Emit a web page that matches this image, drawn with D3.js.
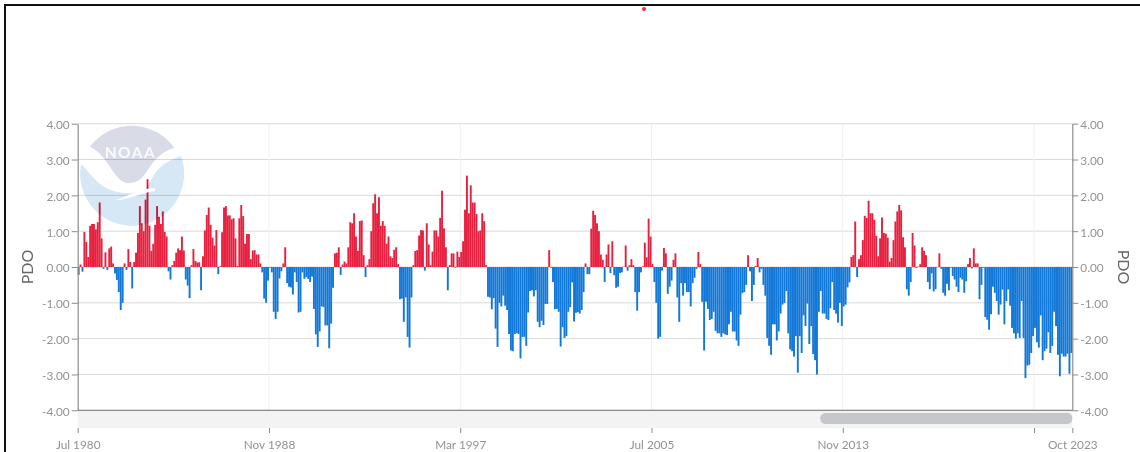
<!DOCTYPE html>
<html>
<head>
<meta charset="utf-8">
<title>PDO</title>
<script src="https://cdn.jsdelivr.net/npm/d3@7"></script>
<style>
  html, body { margin: 0; padding: 0; background: #fff; overflow: hidden; }
  svg { display: block; }
  text { font-family: Lato, "Open Sans", sans-serif; }
</style>
</head>
<body>
<script>
// PDO monthly values, Jul 1980 - Oct 2023
const pdoValues = [
  -0.22,0.07,-0.13,0.98,0.70,0.28,1.15,1.20,1.20,1.05,1.25,1.80,0.80,-0.05,0.41,-0.08,0.52,0.57,0.10,-0.18,
  -0.36,-0.70,-1.20,-1.00,0.10,-0.08,0.50,0.14,-0.60,0.14,0.40,0.95,1.70,1.22,1.00,1.88,2.45,1.15,0.45,0.65,
  1.18,1.70,1.40,1.20,1.55,0.98,0.85,-0.12,-0.35,0.05,0.17,0.40,0.52,0.47,0.85,0.46,-0.35,-0.52,-0.87,0.05,
  0.50,0.17,0.13,0.13,-0.65,0.30,1.02,1.45,1.66,1.18,0.82,0.60,1.03,-0.20,0.02,0.97,1.66,1.70,1.44,1.44,
  1.33,1.36,0.80,0.03,1.36,1.73,1.42,0.65,0.92,0.92,0.22,0.46,0.47,0.35,0.35,0.10,-0.15,-0.88,-1.00,-0.38,
  -0.02,-0.15,-1.25,-1.45,-1.25,-0.32,-0.12,0.10,0.55,-0.45,-0.55,-0.57,-0.77,-0.15,-0.42,-1.27,-1.25,-0.15,-0.33,-0.28,
  -0.33,-0.42,-0.27,-1.17,-1.88,-2.23,-1.80,-1.10,-1.12,-1.63,-1.63,-2.27,-1.58,-0.58,0.38,0.40,0.55,-0.22,0.07,0.15,
  0.10,0.55,1.25,1.22,1.50,0.85,0.45,1.28,1.30,0.33,-0.28,0.05,0.22,1.00,1.78,2.03,1.50,1.95,1.15,1.28,
  1.15,0.65,0.85,0.30,0.25,0.48,0.55,0.08,-0.90,-0.88,-1.53,-0.85,-1.95,-2.25,-0.85,0.05,0.45,0.47,0.88,1.03,
  1.02,-0.10,1.22,0.63,0.05,0.43,1.02,1.02,0.85,1.37,2.13,1.08,0.55,-0.65,0.05,0.38,0.38,-0.02,0.43,0.28,
  0.42,0.72,1.60,2.55,1.50,2.28,1.80,1.80,1.48,1.00,1.02,1.50,1.28,0.05,-0.83,-0.85,-1.18,-0.87,-1.72,-2.23,
  -1.00,-1.10,-0.80,-1.08,-1.20,-1.87,-2.33,-2.35,-1.87,-1.85,-1.87,-2.55,-1.95,-1.95,-2.20,-1.27,-0.67,-0.65,-0.82,-0.65,
  -1.53,-1.68,-1.50,-1.62,-1.03,-1.03,0.47,-0.02,-0.42,-1.18,-1.17,-1.25,-2.22,-1.68,-1.98,-1.93,-1.25,-1.12,-0.43,-1.52,
  -1.28,-1.26,-1.30,-1.20,-0.70,0.10,-0.20,-0.20,1.07,1.57,1.45,1.22,1.00,0.35,0.20,-0.42,0.35,0.63,-0.17,0.72,
  -0.23,-0.58,-0.55,-0.17,-0.15,0.01,0.60,-0.10,0.05,0.22,0.05,-0.70,-1.22,-0.70,-0.15,0.02,0.68,0.27,1.35,0.85,
  0.08,-0.42,-1.00,-2.00,-1.95,-0.10,0.53,0.38,-0.75,-0.55,-0.38,0.20,0.38,-0.85,-1.53,-0.45,-0.80,-0.45,-0.70,-0.70,
  -1.10,-0.45,-0.30,-0.05,0.42,0.08,-0.97,-2.33,-0.97,-1.17,-1.48,-1.45,-1.25,-1.78,-1.85,-1.85,-1.95,-1.85,-1.88,-1.90,
  -1.60,-1.25,-1.80,-1.80,-2.05,-2.20,-1.33,-0.73,-0.70,-0.50,0.33,-0.12,-0.95,-0.50,0.03,0.25,-0.15,-0.05,-0.50,-0.80,
  -1.98,-2.20,-2.45,-1.60,-1.60,-2.05,-1.80,-1.30,-1.05,-1.00,-0.67,-1.85,-2.30,-2.35,-2.50,-1.93,-2.95,-1.93,-2.40,-1.35,
  -1.65,-1.02,-2.15,-1.65,-2.43,-2.60,-3.00,-1.25,-0.67,-1.30,-1.30,-1.45,-1.48,-1.15,-0.42,-1.20,-1.30,-1.55,-1.00,-1.65,
  -1.10,-1.05,-0.57,-0.43,0.28,0.33,1.27,-0.28,0.22,0.33,0.75,1.43,1.37,1.85,1.50,1.50,1.32,0.87,0.30,0.80,
  1.38,0.95,0.93,0.82,0.15,0.25,0.75,1.27,1.55,1.73,1.58,0.83,0.55,-0.62,-0.80,-0.42,0.95,0.60,-0.03,0.01,
  0.08,0.55,0.45,0.33,-0.42,-0.62,-0.18,-0.68,-0.62,-0.01,0.38,-0.05,-0.72,-0.80,-0.47,-0.65,-0.02,-0.25,-0.35,-0.55,
  -0.70,-0.30,-0.35,-0.72,-0.40,0.08,0.25,-0.04,0.52,0.10,0.10,-0.90,-0.50,-0.02,-1.40,-1.47,-1.75,-1.32,-0.55,-0.72,
  -0.95,-1.33,-1.05,-0.63,-1.60,-0.95,-0.63,-1.08,-1.70,-1.85,-2.00,-1.85,-1.98,-0.95,-1.98,-3.10,-2.75,-2.73,-2.40,-1.93,
  -1.70,-2.10,-2.25,-1.35,-2.60,-2.35,-2.28,-1.82,-2.40,-2.20,-1.25,-1.65,-2.45,-3.05,-2.42,-2.50,-2.50,-2.42,-2.98,-2.40
];
const xTickIndex = [0, 100, 200, 300, 400, 500, 520];
const xTickLabels = ['Jul 1980', 'Nov 1988', 'Mar 1997', 'Jul 2005', 'Nov 2013', '', 'Oct 2023'];
const yTicks = [-4, -3, -2, -1, 0, 1, 2, 3, 4];
const scrollWindow = [388, 520];   // part of the range the scrollbar thumb covers

const W = 1140, H = 452;
const plot = {left: 77.7, right: 1072.3, top: 123.7, bottom: 410.3};

const svg = d3.select('body').append('svg')
    .attr('width', W)
    .attr('height', H)
    .style('filter', 'blur(0.4px)');

const x = d3.scaleLinear().domain([0, pdoValues.length]).range([plot.left, plot.right]);
const y = d3.scaleLinear().domain([-4, 4]).range([plot.bottom, plot.top]);

// outer frame + the stray dot at the top
svg.append('path')
    .attr('d', `M5,${H} V5 H${W}`)
    .attr('fill', 'none')
    .attr('stroke', '#111')
    .attr('stroke-width', 2);
svg.append('circle').attr('cx', 644).attr('cy', 9).attr('r', 2).attr('fill', '#e8303a');

// grid
svg.append('g').selectAll('line').data(yTicks).join('line')
    .attr('x1', plot.left).attr('x2', plot.right)
    .attr('y1', d => y(d)).attr('y2', d => y(d))
    .attr('stroke', '#dadada').attr('stroke-width', 1);
svg.append('g').selectAll('line').data(xTickIndex.slice(1, 6)).join('line')
    .attr('x1', d => x(d)).attr('x2', d => x(d))
    .attr('y1', plot.top).attr('y2', plot.bottom)
    .attr('stroke', '#eeeeee').attr('stroke-width', 1);

// bars
const barW = x(1) - x(0);
svg.append('g').selectAll('rect').data(pdoValues).join('rect')
    .attr('x', (d, i) => x(i))
    .attr('width', barW)
    .attr('y', d => y(Math.max(d, 0)))
    .attr('height', d => Math.abs(y(d) - y(0)))
    .attr('fill', d => d >= 0 ? '#e8203f' : '#1278d8');

// logo sits over the bars, drawn in 3x crop coordinates
const logo = svg.append('g')
    .attr('transform', 'translate(75,120) scale(0.3333)')
    .style('mix-blend-mode', 'multiply');
logo.append('path')
    .attr('d', 'M18,133 C45,158 70,205 125,215 C150,222 175,218 205,215 C215,205 222,190 240,160 C262,130 290,118 318,108 A156,156 0 1 1 18,133 Z')
    .attr('fill', '#d6e8f5');
logo.append('path')
    .attr('d', 'M45,80 A156,156 0 0 1 298,84 C262,92 238,120 218,150 C205,172 190,188 160,190 C115,185 100,105 45,80 Z')
    .attr('fill', '#d9dce6');
svg.append('path')
    .attr('transform', 'translate(75,120) scale(0.3333)')
    .attr('d', 'M122,241 C155,228 180,216 205,207 L241,205 L240,213 C205,216 165,238 122,241 Z')
    .attr('fill', '#fff');
svg.append('text')
    .attr('x', 130.5).attr('y', 158)
    .attr('text-anchor', 'middle')
    .attr('font-size', 15.5)
    .attr('font-weight', 700)
    .attr('letter-spacing', 1.5)
    .attr('fill', '#fff')
    .attr('fill-opacity', 0.85)
    .text('NOAA');

// scrollbar under the plot
svg.append('rect')
    .attr('x', plot.left).attr('width', plot.right - plot.left)
    .attr('y', plot.bottom).attr('height', 18)
    .attr('fill', '#f3f3f3');
svg.append('rect')
    .attr('x', x(scrollWindow[0]) + 0.5).attr('width', x(scrollWindow[1]) - x(scrollWindow[0]) - 0.5)
    .attr('y', 413).attr('height', 11).attr('rx', 5)
    .attr('fill', '#c5c7ca');

// axes, labels use a plain hyphen like the reference
const tickFmt = d => d.toFixed(2);
function styleAxis(g) {
    g.selectAll('.domain').attr('stroke', '#8c8c8c').attr('stroke-width', 1.2);
    g.selectAll('.tick line').attr('stroke', '#8c8c8c');
    g.selectAll('.tick text')
        .attr('fill', '#8f9397')
        .attr('font-size', 11.8)
        .style('font-family', 'Lato, sans-serif');
}
svg.append('g')
    .attr('transform', `translate(${plot.left},0)`)
    .call(d3.axisLeft(y).tickValues(yTicks).tickFormat(tickFmt).tickSize(6).tickSizeOuter(0).tickPadding(2))
    .call(styleAxis)
    .call(g => g.selectAll('.tick text').attr('dy', '0.42em'));
svg.append('g')
    .attr('transform', `translate(${plot.right},0)`)
    .call(d3.axisRight(y).tickValues(yTicks).tickFormat(tickFmt).tickSize(6).tickSizeOuter(0).tickPadding(2))
    .call(styleAxis)
    .call(g => g.selectAll('.tick text').attr('dy', '0.42em'));

// bottom axis: base line on the plot edge, ticks below the scrollbar
svg.append('line')
    .attr('x1', plot.left).attr('x2', plot.right)
    .attr('y1', plot.bottom).attr('y2', plot.bottom)
    .attr('stroke', '#8c8c8c').attr('stroke-width', 1.2);
svg.append('g')
    .attr('transform', 'translate(0,428)')
    .call(d3.axisBottom(x).tickValues(xTickIndex).tickFormat((d, i) => xTickLabels[i]).tickSize(5).tickSizeOuter(0).tickPadding(8))
    .call(styleAxis)
    .call(g => g.select('.domain').remove());

// axis titles
svg.append('text')
    .attr('transform', 'translate(33,267) rotate(-90)')
    .attr('text-anchor', 'middle')
    .attr('font-size', 16)
    .attr('fill', '#666')
    .text('PDO');
svg.append('text')
    .attr('transform', 'translate(1118,267) rotate(90)')
    .attr('text-anchor', 'middle')
    .attr('font-size', 16)
    .attr('fill', '#666')
    .text('PDO');
</script>
</body>
</html>
